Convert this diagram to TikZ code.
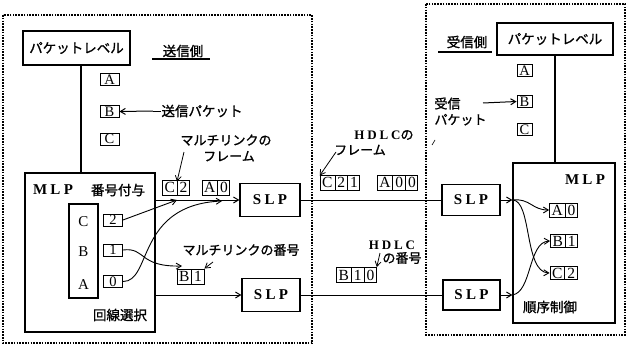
\documentclass[tikz,border=0pt]{standalone}
\usepackage{fontspec}
\setmainfont{Liberation Serif}
\newfontfamily\jp[FakeBold=1.2]{Noto Sans CJK JP}
\newfontfamily\spc[LetterSpace=22]{Liberation Serif}
\usetikzlibrary{shapes.multipart,arrows.meta}
\begin{document}
\begin{tikzpicture}[x=1pt,y=-1pt,line width=1pt,
  >={Straight Barb[length=5pt,width=6pt]},
  dbox/.style={draw,line width=1.1pt,dash pattern=on 1.6pt off 1.2pt},
  blk/.style={draw,line width=1.2pt,inner sep=0pt},
  jtext/.style={font=\jp\fontsize{13.5}{15}\selectfont,inner sep=0pt},
  jsmall/.style={font=\jp\fontsize{13}{16}\selectfont,inner sep=0pt},
  ltr/.style={draw,line width=0.9pt,inner sep=0pt,minimum width=19pt,minimum height=12pt,font=\fontsize{14.5}{14}\selectfont},
  ltrs/.style={draw,line width=0.9pt,inner sep=0pt,minimum width=15pt,minimum height=12pt,font=\fontsize{14.5}{14}\selectfont},
  frm/.style={draw,line width=0.9pt,rectangle split,rectangle split horizontal,rectangle split parts=#1,
     inner xsep=2pt,inner ysep=0.5pt,minimum height=15pt,font=\fontsize{15.5}{15}\selectfont},
  big/.style={font=\spc\bfseries\fontsize{15}{15}\selectfont,inner sep=0pt}]
\useasboundingbox (0,0) rectangle (637,345);

% dashed enclosures
\draw[dbox] (3,15) rectangle (312,343);
\draw[dbox] (426,4) rectangle (625,335);

% ---------------- sending side ----------------
\node[blk,minimum width=107pt,minimum height=34pt,jtext] (pkL) at (76.5,48) {パケットレベル};
\node[jtext] (sendlbl) at (183,51) {送信側};
\draw[line width=1.2pt] (152,59) -- (210,59);

\node[blk,minimum width=130pt,minimum height=159pt] (mlpL) at (90,252.5) {};
\draw[line width=1.2pt] ([xshift=4.5pt]pkL.south) -- ([xshift=4.5pt]pkL.south |- mlpL.north);

\node[ltr] (aL) at (109.5,79.5) {A};
\node[ltr] (bL) at (109.5,111.5) {B};
\node[ltr] (cL) at (109.5,139) {C};
\node[jtext,anchor=west] (sendpk) at (161,111) {送信パケット};
\draw[->] (sendpk.west) ++(-8,0) coordinate (sp0) -- (bL.east);
\draw (sendpk.west) -- (sp0);

\node[big] (mlpLt) at (53,190) {MLP};
\node[jtext] (numgive) at (118,190) {番号付与};
\node[jtext] (linesel) at (120,315) {回線選択};

\node[blk,minimum width=29pt,minimum height=94pt] (inL) at (83.5,251) {};
\node[font=\fontsize{15}{15}\selectfont] (lc) at (83.5,222) {C};
\node[font=\fontsize{15}{15}\selectfont] (lb) at (83.5,252) {B};
\node[font=\fontsize{15}{15}\selectfont] (la) at (83.5,285) {A};
\node[ltr] (n2) at (113,220) {2};
\node[ltr] (n1) at (113,250) {1};
\node[ltr] (n0) at (113,281.5) {0};

\node[frm=2] (c2f) at (176,187.5) {C\nodepart{two}2};
\node[frm=2] (a0f) at (216,187.5) {A\nodepart{two}0};
\node[frm=2] (b1f) at (190.5,276.5) {B\nodepart{two}1};

\node[jsmall,align=center] (mlframe) at (226,148) {マルチリンクの\\\hspace*{6pt}フレーム};
\coordinate (mlf0) at (184,152);
\draw[->,line width=0.8pt] (mlf0) -- ([xshift=1pt,yshift=-2pt]c2f.north);
\node[jsmall] (mlnum) at (241,250) {マルチリンクの番号};
\coordinate (mln0) at (213,262);
\draw[->,line width=0.8pt] (mln0) -- (b1f.north east);

\node[blk,minimum width=60pt,minimum height=33pt,big] (slp1L) at (270,200) {SLP};
\node[blk,minimum width=58pt,minimum height=33pt,big] (slp2L) at (271,295) {SLP};

\draw[->] (mlpL.east |- slp1L.west) -- (slp1L.west);
\draw[->] (mlpL.east |- slp2L.west) -- (slp2L.west);
\coordinate (c2tip) at (177,200);
\coordinate (a0tip) at (222,201);
\coordinate (b1tip) at (182,266);
\draw[->,line width=0.9pt] (n2.east) -- (c2tip);
\draw[->,line width=0.9pt] (n0.east) .. controls (152,282) and (136,205) .. (a0tip);
\draw[->,line width=0.9pt] (n1.east) .. controls (146,247) and (138,267) .. (b1tip);

% ---------------- links ----------------
\node[jsmall] (hdlcf1) at (384,135) {{\spc\bfseries HDLC}の};
\node[jsmall] (hdlcf2) at (360,150) {フレーム};
\node[frm=3] (c21f) at (340,182.5) {C\nodepart{two}2\nodepart{three}1};
\node[frm=3] (a00f) at (397.5,182.5) {A\nodepart{two}0\nodepart{three}0};
\coordinate (hf0) at (336,152);
\draw[->,line width=0.8pt] (hf0) -- ([yshift=-1pt]c21f.north west);

\node[jsmall] (hdlcn1) at (392,245) {{\spc\bfseries HDLC}};
\node[jsmall] (hdlcn2) at (402,258) {の番号};
\node[frm=3] (b10f) at (356.5,275) {B\nodepart{two}1\nodepart{three}0};
\coordinate (hn0) at (380,253);
\draw[->,line width=0.8pt] (hn0) -- (b10f.north east);

\node[blk,minimum width=58pt,minimum height=31pt,big] (slp1R) at (471,200) {SLP};
\node[blk,minimum width=57pt,minimum height=30pt,big] (slp2R) at (471.5,295) {SLP};
\draw (slp1L.east) -- (slp1R.west);
\draw (slp2L.east) -- (slp2R.west);

% stray mark
\draw[line width=0.6pt] (435,140) -- (432,145);

% ---------------- receiving side ----------------
\node[blk,minimum width=116pt,minimum height=32pt,jtext] (pkR) at (555,39) {パケットレベル};
\node[jtext] (recvlbl) at (467,42) {受信側};
\draw[line width=1.2pt] (438,52) -- (492,52);
\node[blk,minimum width=102pt,minimum height=160pt] (mlpR) at (564,243) {};
\draw[line width=1.2pt] (pkR.south) -- (pkR.south |- mlpR.north);

\node[ltrs] (aR) at (524.5,70.5) {A};
\node[ltrs] (bR) at (524.5,101.5) {B};
\node[ltrs] (cR) at (524.5,129.5) {C};
\node[jsmall,align=left,anchor=north west] (recvpk) at (434,97) {受信\\パケット};
\coordinate (rp0) at (483,103);
\draw[->] (rp0) -- (bR.west);

\node[big] (mlpRt) at (585,180) {MLP};
\node[jtext] (order) at (550,307) {順序制御};
\node[frm=2,minimum height=14pt] (a0r) at (563.5,210) {A\nodepart{two}0};
\node[frm=2,minimum height=13pt] (b1r) at (564,241) {B\nodepart{two}1};
\node[frm=2,minimum height=13pt] (c2r) at (563.5,273) {C\nodepart{two}2};

\coordinate (p1) at (mlpR.west |- slp1R.east);
\coordinate (p2) at (mlpR.west |- slp2R.east);
\draw[->] (slp1R.east) -- (p1);
\draw[->] (slp2R.east) -- (p2);
\draw[->,line width=0.9pt] (p1) .. controls (530,198) and (532,210) .. (a0r.west);
\draw[->,line width=0.9pt] (p1) .. controls (532,200) and (524,272) .. (c2r.west);
\draw[->,line width=0.9pt] (p2) .. controls (532,292) and (528,242) .. (b1r.west);
\end{tikzpicture}
\end{document}
